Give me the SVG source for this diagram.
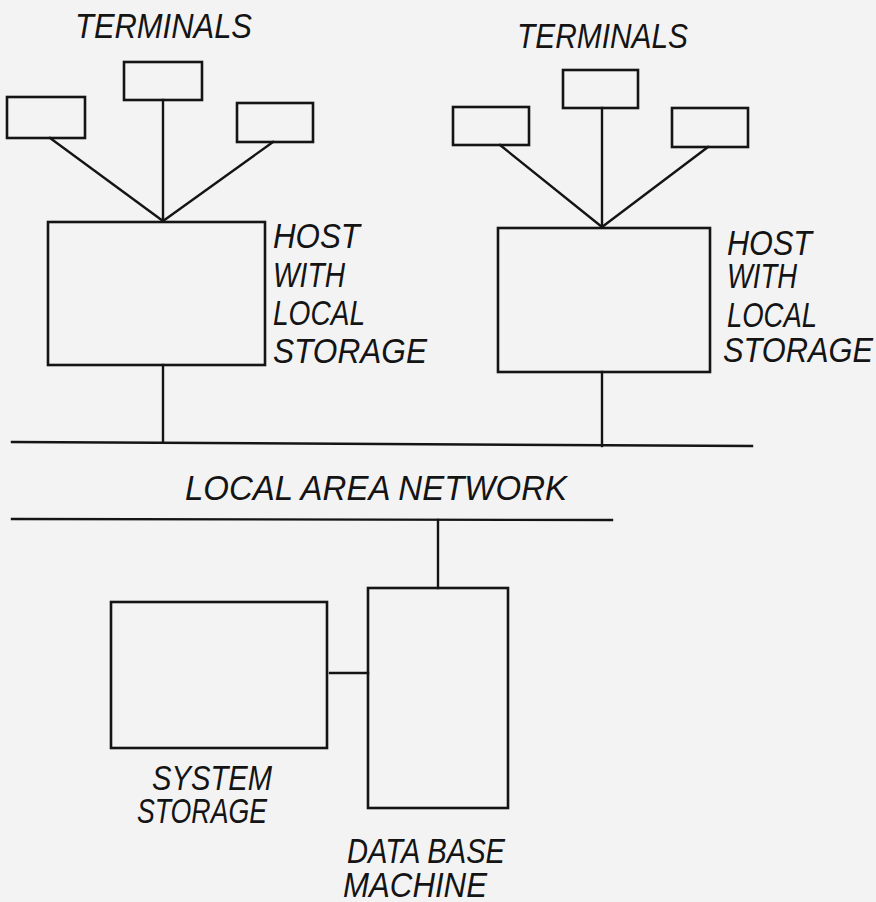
<svg xmlns="http://www.w3.org/2000/svg" width="876" height="902" viewBox="0 0 876 902">
  <style>
    .box { fill: none; stroke: #141414; stroke-width: 2.6; }
    .wire { fill: none; stroke: #141414; stroke-width: 2.4; stroke-linecap: square; }
    .lbl { font-family: "Liberation Sans", Arial, sans-serif; font-style: italic; font-size: 35px; fill: #141414; }
  </style>
  <rect width="876" height="902" fill="#f3f3f3"/>

  <!-- left cluster: terminals and host -->
  <g id="terminals-left-label">
    <text class="lbl" x="75" y="38" textLength="177" lengthAdjust="spacingAndGlyphs">TERMINALS</text>
  </g>
  <g id="term-l1"><rect class="box" x="7" y="97" width="78" height="41"/></g>
  <g id="term-l2"><rect class="box" x="124" y="62" width="78" height="38"/></g>
  <g id="term-l3"><rect class="box" x="237" y="103" width="76" height="39"/></g>
  <g id="host-left">
    <rect class="box" x="48" y="222" width="217" height="143"/>
    <text class="lbl" x="273" y="248" textLength="87" lengthAdjust="spacingAndGlyphs">HOST</text>
    <text class="lbl" x="273" y="287" textLength="72" lengthAdjust="spacingAndGlyphs">WITH</text>
    <text class="lbl" x="273" y="325" textLength="92" lengthAdjust="spacingAndGlyphs">LOCAL</text>
    <text class="lbl" x="273" y="363" textLength="154" lengthAdjust="spacingAndGlyphs">STORAGE</text>
  </g>

  <!-- right cluster: terminals and host -->
  <g id="terminals-right-label">
    <text class="lbl" x="517" y="48" textLength="171" lengthAdjust="spacingAndGlyphs">TERMINALS</text>
  </g>
  <g id="term-r1"><rect class="box" x="453" y="107" width="76" height="38"/></g>
  <g id="term-r2"><rect class="box" x="563" y="70" width="75" height="38"/></g>
  <g id="term-r3"><rect class="box" x="672" y="108" width="76" height="39"/></g>
  <g id="host-right">
    <rect class="box" x="498" y="228" width="212" height="144"/>
    <text class="lbl" x="727" y="255" textLength="85" lengthAdjust="spacingAndGlyphs">HOST</text>
    <text class="lbl" x="727" y="288" textLength="70" lengthAdjust="spacingAndGlyphs">WITH</text>
    <text class="lbl" x="727" y="327" textLength="90" lengthAdjust="spacingAndGlyphs">LOCAL</text>
    <text class="lbl" x="723" y="362" textLength="150" lengthAdjust="spacingAndGlyphs">STORAGE</text>
  </g>

  <!-- network bus -->
  <g id="lan">
    <line class="wire" x1="12" y1="442" x2="752" y2="446"/>
    <line class="wire" x1="12" y1="519" x2="612" y2="520"/>
    <text class="lbl" x="185" y="500" textLength="382" lengthAdjust="spacingAndGlyphs">LOCAL AREA NETWORK</text>
  </g>

  <!-- back end -->
  <g id="system-storage">
    <rect class="box" x="111" y="602" width="216" height="146"/>
    <text class="lbl" x="152" y="790" textLength="120" lengthAdjust="spacingAndGlyphs">SYSTEM</text>
    <text class="lbl" x="137" y="823" textLength="130" lengthAdjust="spacingAndGlyphs">STORAGE</text>
  </g>
  <g id="database-machine">
    <rect class="box" x="368" y="588" width="140" height="220"/>
    <text class="lbl" x="347" y="863" textLength="158" lengthAdjust="spacingAndGlyphs">DATA BASE</text>
    <text class="lbl" x="343" y="897" textLength="144" lengthAdjust="spacingAndGlyphs">MACHINE</text>
  </g>

  <!-- connectors -->
  <g id="connectors">
    <line class="wire" x1="50" y1="138" x2="163" y2="221"/>
    <line class="wire" x1="163" y1="100" x2="163" y2="221"/>
    <line class="wire" x1="273" y1="142" x2="163" y2="221"/>
    <line class="wire" x1="163" y1="365" x2="163" y2="442"/>

    <line class="wire" x1="500" y1="145" x2="602" y2="227"/>
    <line class="wire" x1="602" y1="108" x2="602" y2="227"/>
    <line class="wire" x1="708" y1="147" x2="602" y2="227"/>
    <line class="wire" x1="602" y1="372" x2="602" y2="446"/>

    <line class="wire" x1="438" y1="520" x2="438" y2="588"/>
    <line class="wire" x1="330" y1="673" x2="368" y2="673"/>
  </g>
</svg>
